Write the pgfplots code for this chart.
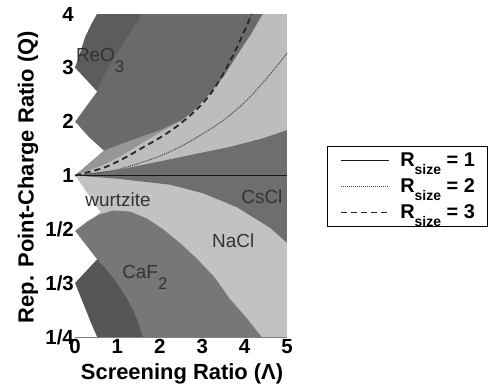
\documentclass[border=0pt]{standalone}
\usepackage{fontspec}
\setmainfont{Liberation Sans}
\usepackage{pgfplots}
\pgfplotsset{compat=1.18}
\definecolor{cA}{HTML}{5C5C5C}
\definecolor{cB}{HTML}{6A6A6A}
\definecolor{cMed}{HTML}{969696}
\definecolor{cLight}{HTML}{BDBDBD}
\definecolor{cCsCl}{HTML}{6E6E6E}
\definecolor{cNaCl}{HTML}{C2C2C2}
\definecolor{cCaF}{HTML}{777777}
\definecolor{cDark}{HTML}{565656}
\definecolor{labelgray}{HTML}{333333}
\newcommand{\Rs}[1]{R\raisebox{-8bp}{\fontsize{14}{14}\selectfont size} = #1\kern9bp}
\begin{document}
\begin{tikzpicture}
\path[use as bounding box] (0,0) rectangle (492bp,388bp);
\begin{axis}[
  at={(75bp,51bp)}, anchor=south west,
  scale only axis, width=212bp, height=323bp,
  xmin=0, xmax=5, ymin=-3, ymax=3,
  clip=false,
  axis lines=left,
  axis line style={-, draw=black!50, line width=0.8bp},
  xtick={0,1,2,3,4,5}, xticklabels={0,1,2,3,4,5},
  ytick={-3,-2,-1,0,1,2,3}, yticklabels={1/4,1/3,1/2,1,2,3,4},
  major tick length=0pt,
  tick label style={font=\bfseries\fontsize{20.5}{20.5}\selectfont, inner sep=1bp},
  xticklabel style={yshift=-1bp},
  yticklabel style={xshift=0bp},
  xlabel={Screening Ratio (Λ)},
  ylabel={Rep. Point-Charge Ratio (Q)},
  label style={font=\bfseries\fontsize{22}{22}\selectfont},
  xlabel style={at={(axis description cs:0.505,-0.113)}, anchor=center},
  ylabel style={at={(axis description cs:-0.222,0.495)}, anchor=center},
  legend style={at={(axis description cs:1.189,0.59)}, anchor=north west,
    draw=black, line width=0.9bp, inner xsep=2bp, inner ysep=2bp,
    font=\bfseries\fontsize{20}{20}\selectfont, row sep=2.5bp,
    nodes={inner sep=2bp}},
  legend cell align=left,
  legend image code/.code={%
    \path (-11bp,-11bp) (56bp,11bp);
    \draw[#1] (0bp,0bp) -- (48bp,0bp);},
]
% ---------- upper half ----------
\addplot[fill=cB, draw=none, forget plot] coordinates {(0,0) (5,0) (5,3) (0,3)} -- cycle;
\addplot[fill=white, draw=none, forget plot] coordinates {(0,2) (0.1,2.22) (0.24,2.57) (0.38,2.8) (0.52,3) (0,3)} -- cycle;
\addplot[fill=cA, draw=none, forget plot] coordinates {(0,2) (0.1,2.22) (0.24,2.57) (0.38,2.8) (0.52,3) (1.58,3) (1.35,2.72) (1.13,2.45) (0.92,2.18) (0.75,1.95) (0.62,1.76) (0.52,1.56)} -- cycle;
\addplot[fill=white, draw=none, forget plot] coordinates {(0,2) (0.52,1.56) (0,1)} -- cycle;
\addplot[fill=white, draw=none, forget plot] coordinates {(0,1) (0.33,0.71) (0.68,0.46) (0,0)} -- cycle;
\addplot[fill=cMed, draw=none, forget plot] coordinates {(0,0) (0.68,0.46) (1.0,0.56) (1.46,0.69) (2.0,0.84) (2.48,1.02) (2.48,0)} -- cycle;
\addplot[fill=cLight, draw=none, forget plot] coordinates {(0,0) (0.66,0.19) (1.13,0.38) (1.6,0.61) (2.08,0.83) (2.48,1.0) (2.8,1.2) (3.11,1.45) (3.5,1.83) (3.84,2.25) (4.15,2.62) (4.43,3) (5,3) (5,0.84) (4.4,0.68) (3.6,0.52) (2.24,0.3) (1,0.1)} -- cycle;
\addplot[fill=cCsCl, draw=none, forget plot] coordinates {(0,0) (1,0.1) (2.24,0.3) (3.6,0.52) (4.4,0.68) (5,0.84) (5,0)} -- cycle;
% ---------- lower half ----------
\addplot[fill=cNaCl, draw=none, forget plot] coordinates {(0,0) (5,0) (5,-3) (0,-3)} -- cycle;
\addplot[fill=cCsCl, draw=none, forget plot] coordinates {(0,0) (1,-0.06) (2.24,-0.17) (3.02,-0.33) (3.82,-0.59) (4.6,-0.97) (5,-1.25) (5,0)} -- cycle;
\addplot[fill=white, draw=none, forget plot] coordinates {(0,0) (0.6,-0.68) (0,-1.03)} -- cycle;
\addplot[fill=cCaF, draw=none, forget plot] coordinates {(0,-1.03) (0.3,-0.85) (0.59,-0.72) (0.9,-0.65) (1.3,-0.67) (1.7,-0.8) (2.08,-1.0) (2.5,-1.27) (2.88,-1.55) (3.3,-1.9) (3.66,-2.3) (4.05,-2.65) (4.4,-3) (0,-3)} -- cycle;
\addplot[fill=white, draw=none, forget plot] coordinates {(0,-1.03) (0.52,-1.56) (0,-2)} -- cycle;
\addplot[fill=cDark, draw=none, forget plot] coordinates {(0,-2) (0.52,-1.56) (0.75,-1.76) (0.99,-2.0) (1.2,-2.25) (1.37,-2.5) (1.5,-2.75) (1.6,-3) (0.52,-3) (0.38,-2.75) (0.24,-2.47) (0.1,-2.2)} -- cycle;
\addplot[fill=white, draw=none, forget plot] coordinates {(0,-2) (0.1,-2.2) (0.24,-2.47) (0.38,-2.75) (0.52,-3) (0,-3)} -- cycle;
% ---------- boundary lines ----------
\addplot[draw=black!90, line width=1.6bp] coordinates {(0,0) (5,0)};
\addlegendentry{\Rs{1}}
\addplot[draw=black!70, line width=1.1bp, dash pattern=on 1bp off 1bp, smooth] coordinates {(0,0) (1,0.11) (2,0.36) (2.64,0.6) (3.02,0.78) (3.42,0.98) (3.85,1.25) (4.2,1.52) (4.6,1.88) (5,2.27)};
\addlegendentry{\Rs{2}}
\addplot[draw=black!85, line width=1.8bp, dash pattern=on 6bp off 4bp, smooth] coordinates {(0,0) (0.66,0.14) (1.13,0.31) (1.6,0.52) (2.08,0.74) (2.48,0.96) (2.9,1.25) (3.2,1.52) (3.49,1.88) (3.82,2.38) (4.17,3)};
\addlegendentry{\Rs{3}}
% ---------- region labels ----------
\node[anchor=base west, text=labelgray, font=\fontsize{19}{19}\selectfont, inner sep=0pt] at (axis cs:0.02,2.12) {ReO\raisebox{-11bp}{\fontsize{17}{17}\selectfont 3}};
\node[anchor=base west, text=labelgray, font=\fontsize{19}{19}\selectfont, inner sep=0pt] at (axis cs:0.24,-0.58) {wurtzite};
\node[anchor=base west, text=labelgray, font=\fontsize{19}{19}\selectfont, inner sep=0pt] at (axis cs:3.92,-0.52) {CsCl};
\node[anchor=base west, text=labelgray, font=\fontsize{19}{19}\selectfont, inner sep=0pt] at (axis cs:3.23,-1.34) {NaCl};
\node[anchor=base west, text=labelgray, font=\fontsize{19}{19}\selectfont, inner sep=0pt] at (axis cs:1.11,-1.91) {CaF\raisebox{-11bp}{\fontsize{17}{17}\selectfont 2}};
\end{axis}
\end{tikzpicture}
\end{document}
